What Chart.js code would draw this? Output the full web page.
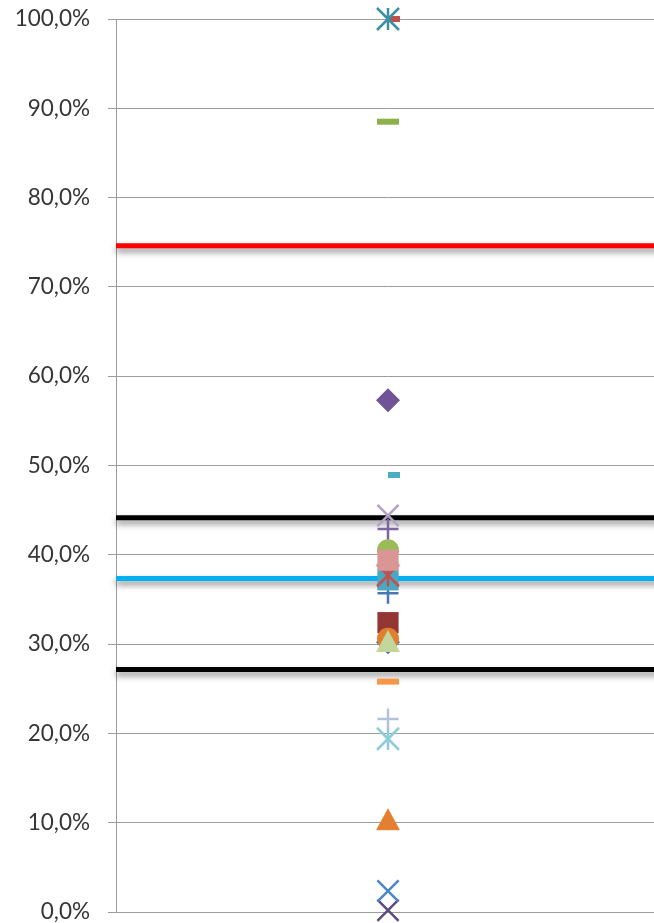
<!DOCTYPE html>
<html>
<head>
<meta charset="utf-8">
<script src="https://cdn.jsdelivr.net/npm/chart.js@4/dist/chart.umd.min.js"></script>
<style>
  html, body { margin: 0; padding: 0; background: #ffffff; overflow: hidden; }
  #wrap { width: 654px; height: 923px; overflow: hidden; }
</style>
</head>
<body>
<div id="wrap"><canvas id="chart" width="660" height="923"></canvas></div>
<script>
// Individual results, listed front to back (first entry is drawn on top)
const seriesValues  = [100.0, 100.0, 88.5, 57.3, 48.9, 44.4, 42.9, 39.4, 40.5, 37.7, 37.2, 35.7, 30.35, 30.6, 32.4, 30.2, 25.8, 21.6, 19.4, 10.4, 2.35, 0.2];
const seriesMarkers = ['star', 'shortDash', 'longDash', 'diamond', 'shortDash', 'x', 'plus', 'square', 'circle', 'star', 'square', 'plus', 'triangle', 'circle', 'square', 'diamond', 'longDash', 'plus', 'star', 'triangle', 'x', 'x'];
const seriesColors  = ['#3b90a6', '#c0504d', '#8eb04a', '#6f5597', '#4bacc6', '#b3a2c7', '#8064a2', '#d99694', '#9bbb59', '#c0504d', '#4aa8c2', '#4a77b4', '#c3d69b', '#e07f30', '#943634', '#3f6aa8', '#f79646', '#b6bfdc', '#8ccbd9', '#e3802f', '#4a86c8', '#604a7b'];

// Horizontal reference levels
const refLineValues = [74.6, 44.15, 37.35, 27.15];
const refLineColors = ['#ff0000', '#000000', '#00b0f0', '#000000'];

// Y axis
const yMin = 0, yMax = 100, yStep = 10;

function makeCanvas(w, h, draw) {
  const c = document.createElement('canvas');
  c.width = w; c.height = h;
  const g = c.getContext('2d');
  draw(g, w, h);
  return c;
}

// Marker styles that Chart.js has no built-in for
function starMarker(color) {
  return makeCanvas(26, 26, (g) => {
    g.strokeStyle = color; g.lineWidth = 2.5;
    g.beginPath();
    g.moveTo(2, 2); g.lineTo(24, 24);
    g.moveTo(24, 2); g.lineTo(2, 24);
    g.moveTo(13, 2); g.lineTo(13, 24);
    g.stroke();
  });
}
function shortDashMarker(color) {
  return makeCanvas(26, 6, (g) => {
    g.fillStyle = color;
    g.fillRect(13, 0, 12, 6);
  });
}
function triangleMarker(color) {
  return makeCanvas(26, 24, (g) => {
    g.fillStyle = color;
    g.beginPath();
    g.moveTo(13, 1); g.lineTo(25, 23); g.lineTo(1, 23);
    g.closePath(); g.fill();
  });
}

function markerOptions(kind, color) {
  switch (kind) {
    case 'star':      return { pointStyle: starMarker(color), pointRadius: 10 };
    case 'shortDash': return { pointStyle: shortDashMarker(color), pointRadius: 10 };
    case 'triangle':  return { pointStyle: triangleMarker(color), pointRadius: 10 };
    case 'longDash':  return { pointStyle: 'line', pointRadius: 11, pointBorderWidth: 6, pointBorderColor: color };
    case 'diamond':   return { pointStyle: 'rectRot', pointRadius: 12, pointBackgroundColor: color, pointBorderWidth: 0 };
    case 'square':    return { pointStyle: 'rect', pointRadius: 15, pointBackgroundColor: color, pointBorderWidth: 0 };
    case 'circle':    return { pointStyle: 'circle', pointRadius: 11, pointBackgroundColor: color, pointBorderWidth: 0 };
    case 'x':         return { pointStyle: 'crossRot', pointRadius: 15, pointBorderWidth: 2.5, pointBorderColor: color };
    case 'plus':      return { pointStyle: 'cross', pointRadius: 10.5, pointBorderWidth: 2.5, pointBorderColor: color };
  }
}

const markerSets = seriesValues.map((v, i) => Object.assign({
  type: 'scatter',
  data: [{ x: 1, y: v }],
  clip: false,
  order: 0,
  pointBackgroundColor: seriesColors[i],
  pointBorderColor: seriesColors[i]
}, markerOptions(seriesMarkers[i], seriesColors[i])));

const lineSets = refLineValues.map((v, i) => ({
  type: 'line',
  data: [{ x: 0, y: v }, { x: 2, y: v }],
  borderColor: refLineColors[i],
  borderWidth: 5,
  pointRadius: 0,
  clip: false,
  order: 1,
  shadowed: true
}));

// soft drop shadow under the reference lines
const lineShadow = {
  id: 'lineShadow',
  beforeDatasetDraw(chart, args) {
    if (!chart.data.datasets[args.index].shadowed) return;
    const ctx = chart.ctx;
    ctx.save();
    ctx.shadowColor = 'rgba(0,0,0,0.45)';
    ctx.shadowBlur = 6;
    ctx.shadowOffsetX = 0;
    ctx.shadowOffsetY = 4;
  },
  afterDatasetDraw(chart, args) {
    if (!chart.data.datasets[args.index].shadowed) return;
    chart.ctx.restore();
  }
};

// keep the plot edges exactly where the layout padding puts them
function noScalePadding(scale) {
  scale.paddingTop = 0;
  scale.paddingBottom = 0;
  scale.paddingLeft = 0;
  scale.paddingRight = 0;
}

new Chart(document.getElementById('chart'), {
  type: 'scatter',
  data: { datasets: markerSets.concat(lineSets) },
  plugins: [lineShadow],
  options: {
    responsive: false,
    animation: false,
    events: [],
    layout: { autoPadding: false, padding: { top: 19, bottom: 11, left: 0, right: 0 } },
    plugins: { legend: { display: false }, tooltip: { enabled: false } },
    scales: {
      x: { type: 'linear', min: 0, max: 2, display: false, afterFit: noScalePadding },
      y: {
        type: 'linear',
        min: yMin, max: yMax,
        afterFit(scale) { scale.width = 116; noScalePadding(scale); },
        grid: { color: '#9c9c9c', lineWidth: 1, tickLength: 8, drawTicks: true },
        border: { display: true, color: '#9c9c9c', width: 1 },
        ticks: {
          stepSize: yStep,
          padding: 18,
          color: '#363636',
          font: { family: 'Lato', size: 22.5 },
          callback: (v) => v.toFixed(1).replace('.', ',') + '%'
        }
      }
    }
  }
});
</script>
</body>
</html>
